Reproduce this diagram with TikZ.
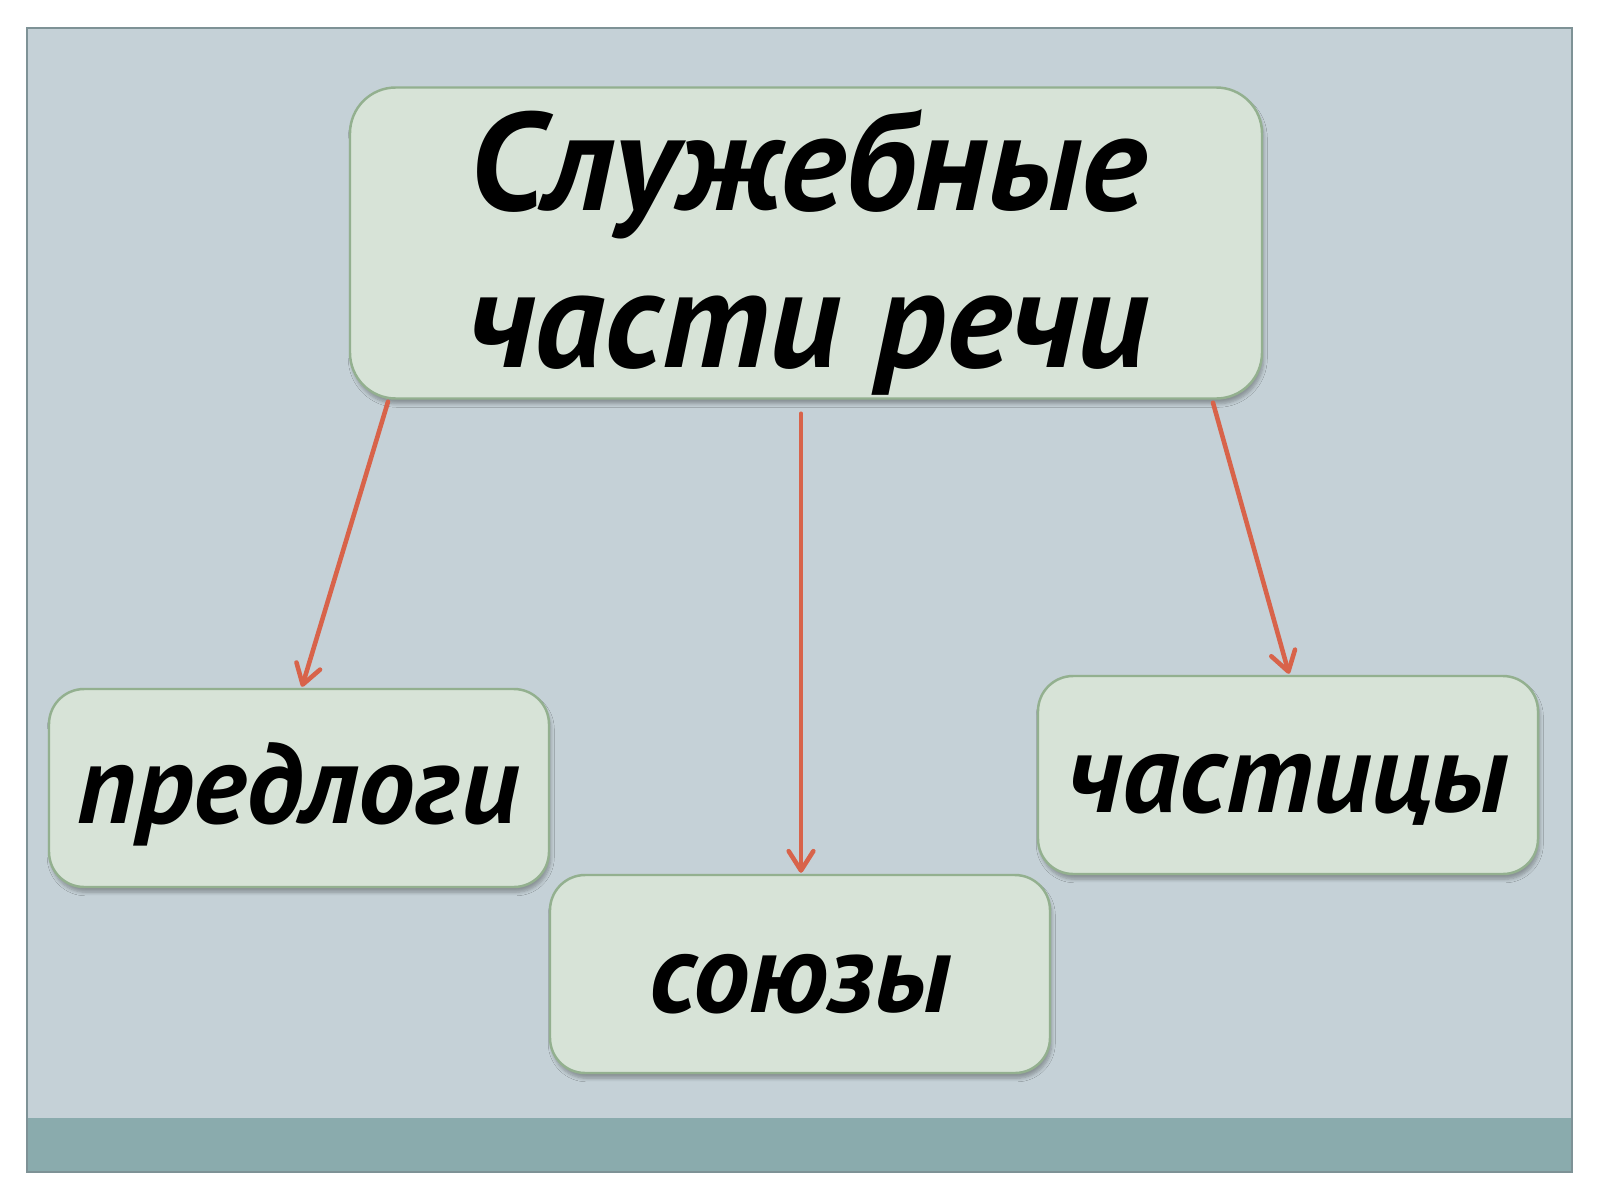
\documentclass[tikz,border=0pt]{standalone}
\usepackage{fontspec}
\setmainfont{PT Sans}
\usetikzlibrary{arrows.meta,shadows.blur,calc}
\definecolor{bgcol}{HTML}{C5D1D7}
\definecolor{framecol}{HTML}{7E9296}
\definecolor{bandcol}{HTML}{8AABAD}
\definecolor{boxfill}{HTML}{D7E3D7}
\definecolor{boxline}{HTML}{93B08F}
\definecolor{arrowcol}{HTML}{D8634A}
\tikzset{
  boxshadow/.style={blur shadow={shadow xshift=0.5pt, shadow yshift=-1.5pt, shadow blur steps=6, shadow blur radius=1pt, shadow opacity=30}},
  mainbox/.style={draw=boxline, line width=0.7pt, fill=boxfill, rounded corners=13pt,
    minimum width=912*0.01cm, minimum height=311*0.01cm, inner sep=0pt, boxshadow},
  subbox/.style={draw=boxline, line width=0.7pt, fill=boxfill, rounded corners=10pt,
    minimum width=500*0.01cm, minimum height=198*0.01cm, inner sep=0pt, boxshadow},
  bigtext/.style={anchor=base, inner sep=0pt, font=\fontsize{39.6}{44}\selectfont\bfseries\itshape},
  smalltext/.style={anchor=base, inner sep=0pt, font=\fontsize{32.2}{38}\selectfont\bfseries\itshape},
  conn/.style={draw=arrowcol, line width=1.3pt, line cap=round,
    -{Straight Barb[length=5.5pt,width=7pt,line width=1.3pt,round]}}
}
\begin{document}
\begin{tikzpicture}[x=0.01cm,y=-0.01cm]
\useasboundingbox (0,0) rectangle (1600,1200);
\fill[white] (0,0) rectangle (1600,1200);
\fill[bgcol] (27,28) rectangle (1572,1172);
\fill[bandcol] (27,1118) rectangle (1572,1172);
\draw[framecol, line width=0.6pt] (27,28) rectangle (1572,1172);
\node[mainbox] (main) at (806,243) {};
\node[subbox] (prep) at (299,788) {};
\node[subbox] (conj) at (800,974) {};
\node[subbox] (part) at (1288,775) {};
\node[bigtext] (t1) at (808,210) {Служебные};
\node[bigtext] (t2) at (808,367) {части речи};
\node[smalltext] (prepT) at (298,823) {предлоги};
\node[smalltext] (conjT) at (800,1012) {союзы};
\node[smalltext] (partT) at (1288,812) {частицы};
\draw[conn] ($(main.south)+(-418,2)$) -- ($(prep.north)+(3,-1)$);
\draw[conn] ($(main.south)+(-5,14)$) -- ($(conj.north)+(1,-1)$);
\draw[conn] ($(main.south)+(407,3)$) -- ($(part.north)+(1,-1)$);
\end{tikzpicture}
\end{document}
